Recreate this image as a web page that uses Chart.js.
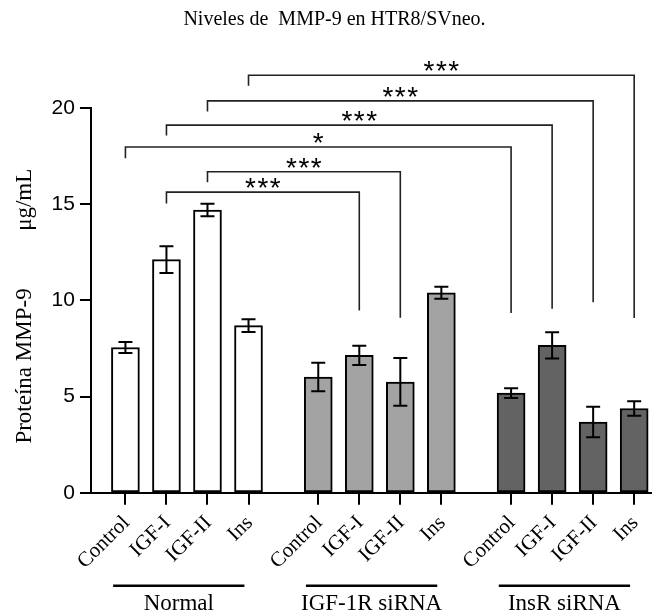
<!DOCTYPE html>
<html>
<head>
<meta charset="utf-8">
<script src="https://cdn.jsdelivr.net/npm/chart.js@4.4.1/dist/chart.umd.min.js"></script>
<style>
  html, body { margin: 0; padding: 0; background: #fff; }
  #wrap { width: 658px; height: 614px; }
</style>
</head>
<body>
<div id="wrap"><canvas id="myChart"></canvas></div>
<script>
// datos
const treatments = ["Control", "IGF-I", "IGF-II", "Ins"];
const groups = ["Normal", "IGF-1R siRNA", "InsR siRNA"];

const normalMeans = [7.55, 12.12, 14.7, 8.69];
const normalSem = [0.29, 0.69, 0.32, 0.33];
const igf1rMeans = [6.02, 7.14, 5.76, 10.4];
const igf1rSem = [0.74, 0.5, 1.24, 0.31];
const insrMeans = [5.18, 7.66, 3.68, 4.38];
const insrSem = [0.25, 0.68, 0.79, 0.38];

const yTicks = [0, 5, 10, 15, 20];

// comparaciones: barra origen, barra destino, nivel, extremos, significancia
const comparisons = [
  { from: 1, to: 5, level: 15.63, leftEnd: 15.04, rightEnd: 9.48, label: "***" },
  { from: 2, to: 6, level: 16.69, leftEnd: 16.14, rightEnd: 9.1, label: "***" },
  { from: 0, to: 8, level: 17.97, leftEnd: 17.39, rightEnd: 9.34, label: "*" },
  { from: 1, to: 9, level: 19.11, leftEnd: 18.57, rightEnd: 9.57, label: "***" },
  { from: 2, to: 10, level: 20.37, leftEnd: 19.82, rightEnd: 9.91, label: "***" },
  { from: 3, to: 11, level: 21.7, leftEnd: 21.16, rightEnd: 9.08, label: "***" },
];

const groupColors = ["#ffffff", "#a3a3a3", "#636363"];
const GROUP_GAP = 0.7;

const allMeans = [normalMeans, igf1rMeans, insrMeans];
const allSem = [normalSem, igf1rSem, insrSem];

const barPos = [];
const barLabels = [];
const points = [];
const colors = [];
const sems = [];
for (let g = 0; g < groups.length; g++) {
  for (let i = 0; i < treatments.length; i++) {
    const x = g * (treatments.length + GROUP_GAP) + i;
    barPos.push(x);
    barLabels.push(treatments[i]);
    points.push({ x: x, y: allMeans[g][i] });
    colors.push(groupColors[g]);
    sems.push(allSem[g][i]);
  }
}

const serif = "'Liberation Serif', 'Times New Roman', serif";
const sans = "'Liberation Sans', Arial, sans-serif";

const errorBars = {
  id: "errorBars",
  afterDatasetsDraw(chart) {
    const ctx = chart.ctx;
    const xs = chart.scales.x;
    const ys = chart.scales.y;
    ctx.save();
    ctx.strokeStyle = "#000";
    ctx.lineWidth = 2;
    points.forEach((p, i) => {
      const x = xs.getPixelForValue(p.x);
      const top = ys.getPixelForValue(p.y + sems[i]);
      const bot = ys.getPixelForValue(p.y - sems[i]);
      ctx.beginPath();
      ctx.moveTo(x, top);
      ctx.lineTo(x, bot);
      ctx.moveTo(x - 7, top);
      ctx.lineTo(x + 7, top);
      ctx.moveTo(x - 7, bot);
      ctx.lineTo(x + 7, bot);
      ctx.stroke();
    });
    ctx.restore();
  },
};

const annotations = {
  id: "annotations",
  afterDraw(chart) {
    const ctx = chart.ctx;
    const xs = chart.scales.x;
    const ys = chart.scales.y;
    ctx.save();

    // corchetes de significancia
    ctx.strokeStyle = "#222";
    ctx.lineWidth = 1.6;
    ctx.fillStyle = "#000";
    ctx.font = "28px " + sans;
    ctx.letterSpacing = "1.5px";
    ctx.textAlign = "center";
    ctx.textBaseline = "alphabetic";
    comparisons.forEach((c) => {
      const x1 = xs.getPixelForValue(barPos[c.from]);
      const x2 = xs.getPixelForValue(barPos[c.to]);
      const y = ys.getPixelForValue(c.level);
      ctx.beginPath();
      ctx.moveTo(x1, ys.getPixelForValue(c.leftEnd));
      ctx.lineTo(x1, y);
      ctx.lineTo(x2, y);
      ctx.lineTo(x2, ys.getPixelForValue(c.rightEnd));
      ctx.stroke();
      ctx.fillText(c.label, (x1 + x2) / 2 + 0.75, y + 5);
    });
    ctx.letterSpacing = "0px";

    // etiquetas de grupo
    const base = chart.chartArea.bottom;
    ctx.strokeStyle = "#000";
    ctx.lineWidth = 2.5;
    ctx.font = "23px " + serif;
    ctx.textBaseline = "alphabetic";
    for (let g = 0; g < groups.length; g++) {
      const first = barPos[g * treatments.length];
      const last = barPos[(g + 1) * treatments.length - 1];
      const a = xs.getPixelForValue(first - 0.3);
      const b = xs.getPixelForValue(last - 0.1);
      ctx.beginPath();
      ctx.moveTo(a, base + 93);
      ctx.lineTo(b, base + 93);
      ctx.stroke();
      ctx.fillText(groups[g], (a + b) / 2, base + 117);
    }
    ctx.restore();
  },
};

const ctx = document.getElementById("myChart");

new Chart(ctx, {
  type: "bar",
  data: {
    datasets: [
      {
        data: points,
        backgroundColor: colors,
        borderColor: "#000",
        borderWidth: 2,
        borderSkipped: false,
        barThickness: 28,
      },
    ],
  },
  options: {
    responsive: true,
    maintainAspectRatio: false,
    animation: false,
    layout: {
      padding: { left: 11, right: 0, bottom: 34 },
    },
    scales: {
      x: {
        type: "linear",
        offset: false,
        min: -0.84,
        max: 12.82,
        afterBuildTicks: (axis) => {
          axis.ticks = barPos.map((v) => ({ value: v }));
        },
        grid: {
          display: true,
          offset: false,
          drawOnChartArea: false,
          drawTicks: true,
          tickLength: 12,
          color: "#000",
          lineWidth: 2,
        },
        border: { display: true, color: "#000", width: 2 },
        ticks: {
          autoSkip: false,
          minRotation: 45,
          maxRotation: 45,
          padding: 6,
          labelOffset: 1,
          color: "#000",
          font: { family: serif, size: 21 },
          callback: (value, index) => barLabels[index],
        },
      },
      y: {
        min: 0,
        max: 20,
        afterBuildTicks: (axis) => {
          axis.ticks = yTicks.map((v) => ({ value: v }));
        },
        grid: {
          display: true,
          drawOnChartArea: false,
          drawTicks: true,
          tickLength: 11,
          color: "#000",
          lineWidth: 2,
        },
        border: { display: true, color: "#000", width: 2 },
        ticks: {
          padding: 5,
          color: "#000",
          font: { family: sans, size: 21 },
        },
        title: {
          display: true,
          text: "Proteína MMP-9          μg/mL  ",
          color: "#000",
          font: { family: serif, size: 23 },
          padding: { top: 0, bottom: 8 },
        },
      },
    },
    plugins: {
      legend: { display: false },
      tooltip: { enabled: false },
      title: {
        display: true,
        text: "Niveles de  MMP-9 en HTR8/SVneo.",
        color: "#000",
        font: { family: serif, size: 20, weight: "normal" },
        padding: { top: 8, bottom: 76 },
      },
    },
  },
  plugins: [errorBars, annotations],
});
</script>
</body>
</html>
